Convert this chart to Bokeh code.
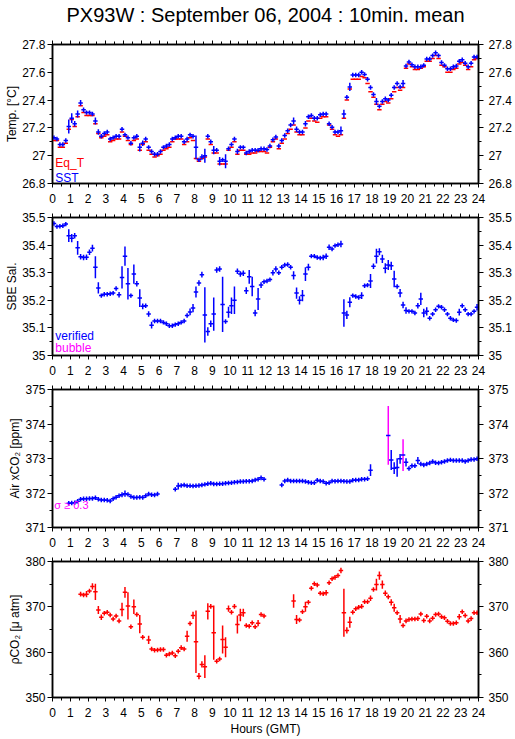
import math
from bokeh.plotting import figure
from bokeh.models import (Range1d, LinearAxis, FixedTicker, CustomJSTickFormatter,
                          ColumnDataSource, Label)
from bokeh.layouts import column
from bokeh.embed import file_html
from bokeh.resources import INLINE

nan = float("nan")
FONT = "Liberation Sans"
BLUE, RED, MAGENTA = "#0000ff", "#ff0000", "#ff00ff"

TITLE = "PX93W : September 06, 2004 : 10min. mean"
BIN_HOURS = 1.0 / 6.0   # 10-minute means

# ---------------- data (one value per 10-min bin, 00:00 .. 23:50 GMT) ----------------
sst = [27.13, 27.12, 27.08, 27.08, 27.11, 27.21, 27.27, 27.23, 27.30, 27.38, 27.33, 27.31,
       27.31, 27.30, 27.25, 27.17, 27.14, 27.16, 27.17, 27.12, 27.13, 27.14, 27.14, 27.19,
       27.15, 27.13, 27.09, 27.13, 27.14, 27.06, 27.09, 27.12, 27.06, 27.03, 27.01, 27.01,
       27.03, 27.06, 27.07, 27.08, 27.12, 27.13, 27.14, 27.14, 27.10, 27.12, 27.15, 27.14,
       27.06, 26.97, 26.99, 27.00, 27.14, 27.10, 27.04, 27.04, 26.96, 26.97, 26.96, 27.05,
       27.08, 27.12, 27.03, 27.06, 27.06, 27.02, 27.03, 27.04, 27.04, 27.04, 27.05, 27.05,
       27.045, 27.07, 27.115, 27.135, 27.07, 27.11, 27.145, 27.18, 27.22, 27.25, 27.19, 27.17,
       27.17, 27.23, 27.28, 27.29, 27.27, 27.27, 27.295, 27.30, 27.30, 27.23, 27.205, 27.17,
       27.17, 27.18, 27.30, 27.42, 27.495, 27.58, 27.58, 27.58, 27.60, 27.585, 27.55, 27.49,
       27.44, 27.39, 27.355, 27.39, 27.41, 27.40, 27.435, 27.49, 27.52, 27.495, 27.52, 27.645,
       27.675, 27.655, 27.64, 27.64, 27.64, 27.65, 27.695, 27.695, 27.72, 27.74, 27.72, 27.67,
       27.65, 27.625, 27.625, 27.64, 27.645, 27.68, 27.69, 27.665, 27.64, 27.665, 27.71, 27.71]
sst_err = [0.016, 0.016, 0.016, 0.016, 0.016, 0.05, 0.035, 0.02, 0.025, 0.02, 0.016, 0.016,
           0.016, 0.016, 0.025, 0.02, 0.016, 0.016, 0.016, 0.016, 0.016, 0.016, 0.016, 0.016,
           0.016, 0.016, 0.016, 0.016, 0.016, 0.03, 0.02, 0.016, 0.016, 0.016, 0.016, 0.016,
           0.016, 0.016, 0.016, 0.016, 0.016, 0.016, 0.016, 0.016, 0.016, 0.016, 0.016, 0.016,
           0.085, 0.016, 0.02, 0.05, 0.016, 0.016, 0.03, 0.016, 0.03, 0.016, 0.05, 0.016,
           0.016, 0.016, 0.02, 0.016, 0.016, 0.016, 0.016, 0.016, 0.016, 0.016, 0.016, 0.016,
           0.016, 0.016, 0.016, 0.016, 0.016, 0.016, 0.016, 0.016, 0.016, 0.025, 0.02, 0.016,
           0.016, 0.02, 0.016, 0.016, 0.016, 0.016, 0.016, 0.016, 0.016, 0.016, 0.016, 0.016,
           0.016, 0.03, 0.03, 0.016, 0.03, 0.016, 0.016, 0.016, 0.016, 0.016, 0.016, 0.016,
           0.016, 0.025, 0.016, 0.016, 0.016, 0.016, 0.016, 0.016, 0.016, 0.016, 0.025, 0.016,
           0.016, 0.016, 0.016, 0.016, 0.016, 0.016, 0.016, 0.016, 0.016, 0.016, 0.016, 0.016,
           0.016, 0.016, 0.016, 0.016, 0.016, 0.016, 0.016, 0.016, 0.016, 0.016, 0.016, 0.016]
eq_t = [27.11, 27.11, 27.06, 27.06, 27.09, 27.19, 27.26, 27.21, 27.28, 27.36, 27.31, 27.29,
        27.29, 27.29, 27.23, 27.16, 27.13, 27.14, 27.15, 27.10, 27.11, 27.12, 27.12, 27.17,
        27.14, 27.11, 27.08, 27.11, 27.12, 27.04, 27.08, 27.10, 27.04, 27.01, 26.99, 27.00,
        27.01, 27.04, 27.05, 27.06, 27.10, 27.12, 27.12, 27.12, 27.08, 27.10, 27.13, 27.11,
        26.98, 26.96, 26.98, 26.99, 27.12, 27.08, 27.02, 27.02, 26.94, 26.94, 26.94, 27.04,
        27.06, 27.10, 27.01, 27.04, 27.04, 27.01, 27.01, 27.02, 27.02, 27.03, 27.03, 27.03,
        27.02, 27.06, 27.10, 27.12, 27.05, 27.09, 27.12, 27.16, 27.19, 27.22, 27.17, 27.15,
        27.15, 27.20, 27.25, 27.27, 27.25, 27.24, 27.27, 27.28, 27.28, 27.22, 27.19, 27.15,
        27.14, 27.15, 27.27, 27.40, 27.48, 27.55, 27.55, 27.55, 27.57, 27.56, 27.52, 27.46,
        27.42, 27.37, 27.33, 27.37, 27.39, 27.38, 27.41, 27.46, 27.49, 27.47, 27.49, 27.63,
        27.66, 27.64, 27.62, 27.62, 27.63, 27.64, 27.68, 27.68, 27.70, 27.72, 27.70, 27.65,
        27.64, 27.60, 27.60, 27.62, 27.63, 27.66, 27.67, 27.65, 27.62, 27.64, 27.69, 27.70]

sal = [35.478, 35.467, 35.468, 35.470, 35.476, 35.434, 35.425, 35.434, 35.390, 35.358, 35.355, 35.356,
       35.374, 35.389, 35.320, 35.245, 35.217, 35.222, 35.222, 35.224, 35.226, 35.243, 35.220, 35.283,
       35.360, 35.260, 35.217, 35.295, 35.260, 35.208, 35.178, 35.180, 35.150, 35.110, 35.125, 35.125,
       35.125, 35.120, 35.115, 35.108, 35.108, 35.112, 35.115, 35.120, 35.125, 35.145, 35.158, 35.172,
       35.230, 35.263, 35.293, 35.147, 35.087, 35.115, 35.150, 35.310, 35.313, 35.185, 35.123, 35.157,
       35.180, 35.200, 35.305, 35.295, 35.298, 35.235, 35.285, 35.250, 35.154, 35.205, 35.255, 35.267,
       35.270, 35.275, 35.300, 35.313, 35.300, 35.320, 35.328, 35.330, 35.320, 35.290, 35.226, 35.200,
       35.217, 35.295, 35.320, 35.360, 35.360, 35.355, 35.353, 35.355, 35.360, 35.392, 35.386, 35.398,
       35.401, 35.404, 35.154, 35.147, 35.193, 35.217, 35.214, 35.210, 35.217, 35.253, 35.255, 35.270,
       35.323, 35.360, 35.376, 35.350, 35.316, 35.328, 35.325, 35.277, 35.250, 35.226, 35.183, 35.163,
       35.160, 35.160, 35.154, 35.180, 35.205, 35.154, 35.160, 35.135, 35.150, 35.166, 35.178, 35.175,
       35.166, 35.150, 35.135, 35.129, 35.127, 35.157, 35.180, 35.166, 35.150, 35.150, 35.160, 35.175]
sal_err = [0.008, 0.008, 0.008, 0.008, 0.008, 0.023, 0.015, 0.01, 0.025, 0.01, 0.01, 0.01,
           0.01, 0.012, 0.04, 0.02, 0.008, 0.008, 0.008, 0.008, 0.008, 0.008, 0.01, 0.04,
           0.035, 0.057, 0.008, 0.035, 0.01, 0.032, 0.01, 0.008, 0.01, 0.012, 0.008, 0.008,
           0.008, 0.008, 0.008, 0.008, 0.008, 0.008, 0.008, 0.008, 0.008, 0.008, 0.012, 0.015,
           0.02, 0.01, 0.01, 0.1, 0.015, 0.012, 0.06, 0.01, 0.01, 0.1, 0.008, 0.02,
           0.03, 0.05, 0.01, 0.01, 0.01, 0.012, 0.025, 0.035, 0.012, 0.04, 0.01, 0.008,
           0.008, 0.008, 0.01, 0.01, 0.008, 0.008, 0.008, 0.008, 0.008, 0.015, 0.02, 0.015,
           0.02, 0.025, 0.012, 0.008, 0.008, 0.008, 0.008, 0.01, 0.01, 0.01, 0.008, 0.008,
           0.008, 0.012, 0.05, 0.015, 0.018, 0.008, 0.008, 0.008, 0.012, 0.008, 0.008, 0.025,
           0.01, 0.027, 0.013, 0.015, 0.018, 0.018, 0.015, 0.03, 0.008, 0.015, 0.012, 0.012,
           0.008, 0.008, 0.008, 0.01, 0.022, 0.015, 0.015, 0.008, 0.008, 0.008, 0.008, 0.008,
           0.008, 0.008, 0.008, 0.008, 0.008, 0.012, 0.008, 0.008, 0.008, 0.008, 0.008, 0.012]

xco2 = [nan, nan, nan, nan, nan, 371.70, 371.71, 371.72, 371.76, 371.82, 371.83, 371.83,
        371.84, 371.84, 371.86, 371.82, 371.80, 371.80, 371.79, 371.77, 371.83, 371.88, 371.92, 371.95,
        371.98, 371.96, 371.90, 371.87, 371.87, 371.88, 371.87, 371.92, 371.97, 371.95, 371.94, 371.97,
        nan, nan, nan, nan, nan, 372.11, 372.20, 372.22, 372.23, 372.21, 372.21, 372.20,
        372.21, 372.22, 372.23, 372.25, 372.27, 372.28, 372.26, 372.26, 372.27, 372.27, 372.28, 372.29,
        372.30, 372.31, 372.32, 372.33, 372.33, 372.34, 372.34, 372.35, 372.38, 372.40, 372.44, 372.40,
        nan, nan, nan, nan, nan, 372.23, 372.35, 372.38, 372.35, 372.35, 372.35, 372.35,
        372.35, 372.33, 372.31, 372.30, 372.30, 372.37, 372.35, 372.33, 372.28, 372.30, 372.35, 372.34,
        372.35, 372.35, 372.34, 372.33, 372.33, 372.37, 372.38, 372.38, 372.40, 372.40, 372.41, 372.66,
        nan, nan, nan, nan, nan, 373.67, 372.96, 372.72, 372.74, 372.99, 373.10, 372.89,
        372.71, 372.79, 372.79, 372.94, 372.84, 372.81, 372.84, 372.87, 372.91, 372.88, 372.87, 372.89,
        372.91, 372.94, 372.96, 372.94, 372.94, 372.94, 372.94, 372.91, 372.94, 372.97, 372.97, 372.99]
xco2_err = [0.065, 0.065, 0.065, 0.065, 0.065, 0.065, 0.065, 0.065, 0.065, 0.065, 0.065, 0.065,
            0.065, 0.065, 0.065, 0.065, 0.065, 0.065, 0.065, 0.065, 0.065, 0.065, 0.065, 0.07,
            0.09, 0.065, 0.065, 0.065, 0.065, 0.065, 0.065, 0.065, 0.065, 0.065, 0.065, 0.065,
            0.065, 0.065, 0.065, 0.065, 0.065, 0.065, 0.10, 0.065, 0.065, 0.065, 0.065, 0.065,
            0.065, 0.065, 0.065, 0.065, 0.065, 0.065, 0.065, 0.065, 0.065, 0.065, 0.065, 0.065,
            0.065, 0.065, 0.065, 0.065, 0.065, 0.065, 0.065, 0.065, 0.065, 0.065, 0.07, 0.065,
            0.065, 0.065, 0.065, 0.065, 0.065, 0.065, 0.065, 0.065, 0.065, 0.065, 0.065, 0.065,
            0.065, 0.065, 0.065, 0.065, 0.065, 0.065, 0.065, 0.065, 0.065, 0.065, 0.065, 0.065,
            0.065, 0.065, 0.065, 0.065, 0.065, 0.065, 0.065, 0.065, 0.065, 0.065, 0.065, 0.17,
            0.065, 0.065, 0.065, 0.065, 0.065, 0.85, 0.29, 0.17, 0.27, 0.14, 0.46, 0.12,
            0.065, 0.065, 0.065, 0.10, 0.065, 0.065, 0.065, 0.065, 0.065, 0.065, 0.065, 0.065,
            0.065, 0.065, 0.065, 0.065, 0.065, 0.065, 0.065, 0.065, 0.065, 0.065, 0.065, 0.065]
SIGMA_FLAG = 0.3

pco2 = [nan, nan, nan, nan, nan, nan, nan, nan, nan, 372.8, 372.6, 372.8,
        373.5, 374.5, 373.3, 369.3, 367.7, 368.6, 368.8, 368.2, 367.3, 368.0, 366.9, 369.4,
        373.2, 370.2, 365.6, 370.0, 368.3, 366.2, 363.3, nan, 362.7, 360.7, 360.4, 360.5,
        360.6, 360.6, 359.3, 359.6, 359.8, 359.2, 360.2, 361.0, 360.7, 363.5, 366.3, 368.1,
        362.3, 354.7, 357.3, 356.8, 369.0, 370.1, 364.3, 358.0, 358.5, 362.8, 361.1, 369.6,
        368.8, 370.1, 366.1, 368.2, 368.7, 365.9, 365.7, 366.5, 365.6, 366.4, 368.3, 368.0,
        nan, nan, nan, nan, nan, nan, nan, nan, nan, 371.3, 367.2, 367.1,
        368.9, 370.0, 371.0, 374.1, 375.1, 374.8, 373.0, 372.9, 373.1, 375.3, 376.2, 376.5,
        376.9, 378.0, 368.7, 364.8, 366.6, 368.8, 369.6, 369.9, 370.1, 371.1, 371.1, 371.9,
        373.8, 374.9, 376.9, 374.9, 373.0, 372.2, 371.0, 369.8, 368.7, 367.3, 365.9, 366.9,
        367.2, 367.3, 367.3, 367.4, 368.4, 367.0, 367.9, 366.9, 367.5, 368.3, 368.4, 367.8,
        367.6, 366.8, 366.3, 366.3, 366.5, 367.8, 368.9, 368.1, 366.9, 367.4, 368.7, 368.7]
pco2_err = [0.5, 0.5, 0.5, 0.5, 0.5, 0.5, 0.5, 0.5, 0.5, 0.5, 0.5, 0.7,
            0.5, 0.7, 1.8, 0.9, 0.6, 0.5, 0.5, 0.5, 0.5, 0.5, 0.5, 1.5,
            1.2, 3.0, 0.5, 1.6, 0.5, 2.0, 0.5, 0.5, 0.9, 0.5, 0.5, 0.5,
            0.5, 0.5, 0.5, 0.5, 0.5, 0.5, 0.5, 0.5, 0.5, 1.2, 0.5, 0.8,
            6.9, 0.7, 0.7, 2.5, 1.8, 0.5, 6.0, 0.5, 0.5, 3.1, 2.2, 0.7,
            0.5, 0.5, 2.0, 1.4, 0.9, 0.5, 0.5, 0.5, 0.5, 0.7, 0.5, 0.5,
            0.5, 0.5, 0.5, 0.5, 0.5, 0.5, 0.5, 0.5, 0.5, 1.5, 1.0, 0.5,
            0.5, 1.1, 0.5, 0.5, 0.5, 0.5, 0.5, 0.5, 0.6, 0.5, 0.5, 0.5,
            0.5, 0.6, 5.3, 0.7, 1.2, 0.5, 0.5, 0.5, 0.5, 0.5, 0.5, 0.6,
            0.5, 1.3, 0.9, 0.9, 0.6, 0.5, 0.7, 0.9, 0.5, 0.9, 0.5, 0.5,
            0.5, 0.5, 0.5, 0.5, 0.5, 0.5, 0.5, 0.5, 0.5, 0.5, 0.5, 0.5,
            0.5, 0.5, 0.5, 0.5, 0.5, 0.6, 0.5, 0.5, 0.5, 0.5, 0.5, 0.5]

# ---------------- axes / ticks ----------------
hour_ticks = list(range(0, 25))
half_hour_ticks = [h + 0.5 for h in range(0, 24)]
temp_ticks = [26.8, 27.0, 27.2, 27.4, 27.6, 27.8]
temp_minor = [26.9, 27.1, 27.3, 27.5, 27.7]
sal_ticks = [35.0, 35.1, 35.2, 35.3, 35.4, 35.5]
sal_minor = [35.05, 35.15, 35.25, 35.35, 35.45]
xco2_ticks = [371, 372, 373, 374, 375]
xco2_minor = [371.5, 372.5, 373.5, 374.5]
pco2_ticks = [350, 360, 370, 380]
pco2_minor = [355, 365, 375]

W = 514
LEFT, RIGHT = 52, 36
CROSS_HALF_WIDTH = 0.75   # horizontal bar half-width, in 10-min bins
LW = 1.5


def fmt():
    return CustomJSTickFormatter(code="return String(Math.round(tick * 1000) / 1000);")


def style_axis(ax, size="12px"):
    ax.axis_line_width = 1.5
    ax.axis_line_color = "black"
    ax.major_tick_line_width = 1
    ax.minor_tick_line_width = 1
    ax.major_tick_out = 5
    ax.major_tick_in = 0
    ax.minor_tick_out = 3
    ax.minor_tick_in = 0
    ax.major_label_text_font = FONT
    ax.major_label_text_font_size = size
    ax.major_label_text_color = "black"
    ax.axis_label_text_font = FONT
    ax.axis_label_text_font_size = "12px"
    ax.axis_label_text_font_style = "normal"
    ax.axis_label_text_color = "black"


def panel(y0, y1, ymaj, ymin, ylabel, top, bottom, frame_h, xlabel=None, title=None):
    p = figure(width=W, height=top + frame_h + bottom,
               x_range=Range1d(0, 24), y_range=Range1d(y0, y1),
               x_axis_location=None, y_axis_location=None,
               output_backend="svg", toolbar_location=None,
               min_border_left=LEFT, min_border_right=RIGHT,
               min_border_top=top, min_border_bottom=bottom)
    p.grid.visible = False
    p.outline_line_color = "black"
    p.outline_line_width = 1.5
    p.background_fill_color = "white"
    p.border_fill_color = "white"

    xb = LinearAxis(ticker=FixedTicker(ticks=hour_ticks, minor_ticks=half_hour_ticks), formatter=fmt())
    style_axis(xb)
    xb.major_tick_out = 4
    xb.major_label_standoff = 6
    if xlabel:
        xb.axis_label = xlabel
        xb.axis_label_standoff = 2
    p.add_layout(xb, "below")

    # top axis: ticks only; on the first panel its axis label carries the chart title
    xt = LinearAxis(ticker=FixedTicker(ticks=hour_ticks, minor_ticks=half_hour_ticks), formatter=fmt())
    style_axis(xt, size="1px")
    xt.major_label_text_color = None
    xt.major_tick_out = 4
    xt.major_label_standoff = 0
    if title:
        xt.axis_label = title
        xt.axis_label_text_font_size = "20px"
        xt.axis_label_standoff = 15
    p.add_layout(xt, "above")

    yl = LinearAxis(ticker=FixedTicker(ticks=ymaj, minor_ticks=ymin), formatter=fmt(), axis_label=ylabel)
    style_axis(yl)
    yl.major_label_standoff = 2
    yl.axis_label_standoff = 0
    p.add_layout(yl, "left")

    yr = LinearAxis(ticker=FixedTicker(ticks=ymaj, minor_ticks=ymin), formatter=fmt())
    style_axis(yr)
    yr.major_label_standoff = 5
    p.add_layout(yr, "right")
    return p


def crosses(p, values, errors, color, vcolor_fn=None, vertical=True):
    x0, x1, xc, yy, lo, hi, vc = [], [], [], [], [], [], []
    for k, (v, e) in enumerate(zip(values, errors)):
        if v is None or math.isnan(v):
            continue
        c = (k + 0.5) * BIN_HOURS
        x0.append(c - CROSS_HALF_WIDTH * BIN_HOURS)
        x1.append(c + CROSS_HALF_WIDTH * BIN_HOURS)
        xc.append(c)
        yy.append(v)
        lo.append(v - e)
        hi.append(v + e)
        vc.append(vcolor_fn(e) if vcolor_fn else color)
    src = ColumnDataSource(dict(x0=x0, x1=x1, xc=xc, y=yy, lo=lo, hi=hi, vc=vc))
    if vertical:
        p.segment(x0="xc", y0="lo", x1="xc", y1="hi", line_color="vc", line_width=LW,
                  line_cap="butt", source=src)
    p.segment(x0="x0", y0="y", x1="x1", y1="y", line_color=color, line_width=LW,
              line_cap="butt", source=src)


def legend_text(p, x, y, text, color, size="12px"):
    p.add_layout(Label(x=x, y=y, text=text, text_color=color, text_font=FONT,
                       text_font_size=size, text_baseline="alphabetic", text_align="left"))


# Panel 1: temperature
p1 = panel(26.8, 27.8, temp_ticks, temp_minor, "Temp. [°C]", 44, 29, 139, title=TITLE)
crosses(p1, eq_t, sst_err, RED, vertical=False)
crosses(p1, sst, sst_err, BLUE)
legend_text(p1, 0.16, 26.944, "Eq_T", RED)
legend_text(p1, 0.16, 26.843, "SST", BLUE)

# Panel 2: salinity
p2 = panel(35.0, 35.5, sal_ticks, sal_minor, "SBE Sal.", 5, 29, 138)
crosses(p2, sal, sal_err, BLUE)
legend_text(p2, 0.16, 35.069, "verified", BLUE)
legend_text(p2, 0.16, 35.028, "bubble", MAGENTA)

# Panel 3: air xCO2
p3 = panel(371, 375, xco2_ticks, xco2_minor, "Air xCO₂ [ppm]", 5, 29, 138)
crosses(p3, xco2, xco2_err, BLUE, vcolor_fn=lambda e: MAGENTA if e >= SIGMA_FLAG else BLUE)
legend_text(p3, 0.1, 371.65, "σ ≥ 0.3", MAGENTA, size="11px")

# Panel 4: pCO2
p4 = panel(350, 380, pco2_ticks, pco2_minor, "ρCO₂ [μ atm]", 5, 40, 137, xlabel="Hours (GMT)")
crosses(p4, pco2, pco2_err, RED)

layout = column(p1, p2, p3, p4, spacing=0)
open("out.html", "w").write(file_html(layout, INLINE))
